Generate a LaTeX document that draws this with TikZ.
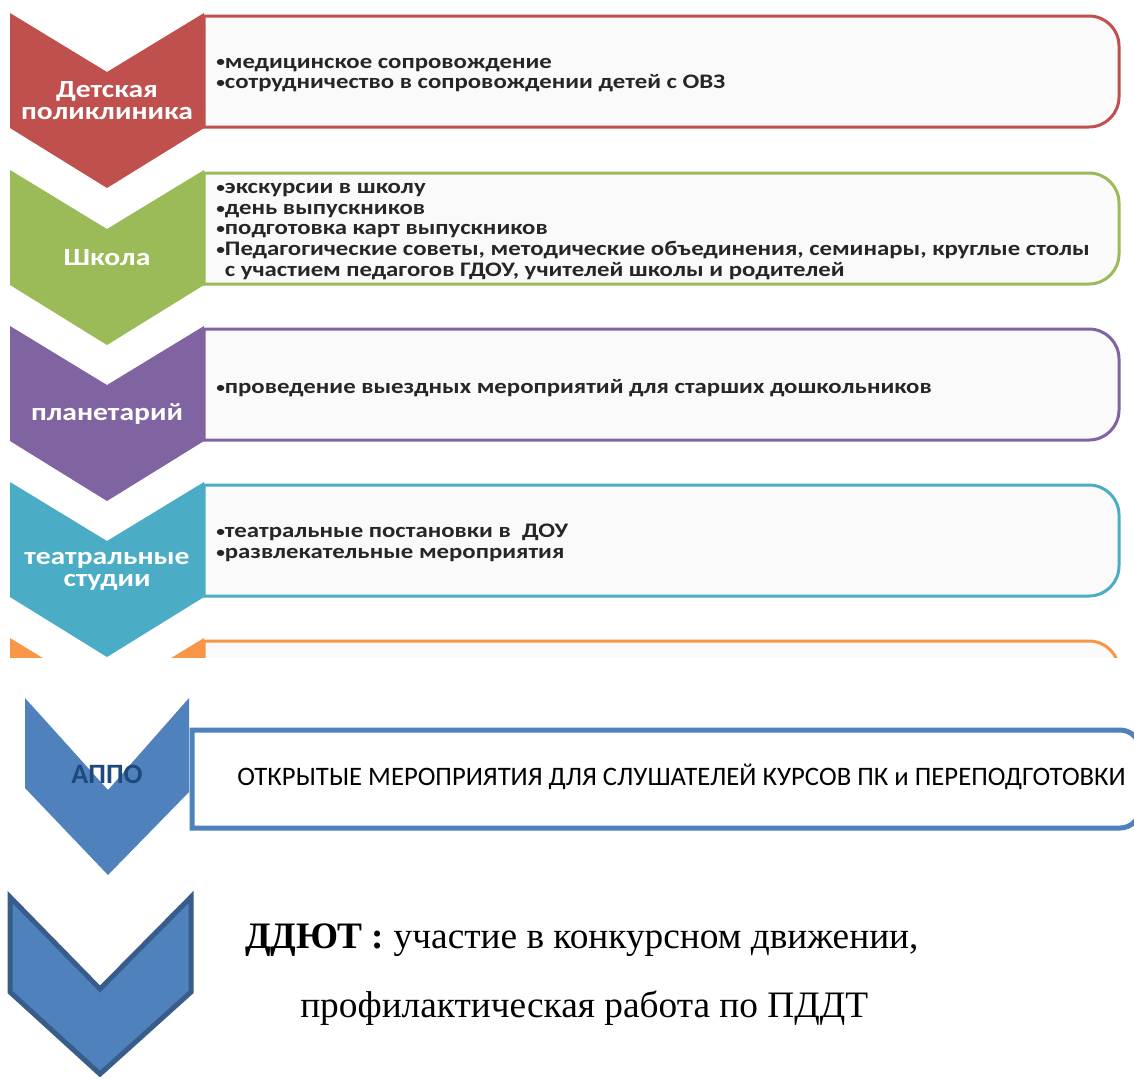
\documentclass[tikz,border=0pt]{standalone}
\usepackage{fontspec}
\usepackage{graphicx}
\setmainfont{Liberation Serif}
\newfontfamily\calst[FakeStretch=1.2]{Carlito}
\newfontfamily\calr{Carlito}
\definecolor{cred}{HTML}{C0504D}
\definecolor{cgreen}{HTML}{9BBB59}
\definecolor{cpurple}{HTML}{8064A2}
\definecolor{cteal}{HTML}{4BACC6}
\definecolor{corange}{HTML}{F79646}
\definecolor{cblue}{HTML}{4F81BD}
\definecolor{cdblue}{HTML}{385D8A}
\definecolor{cnavy}{HTML}{1F497D}
\definecolor{boxfill}{HTML}{FAFAFA}
\definecolor{txt}{HTML}{262626}
\newcommand\bul{\raisebox{0.12ex}{\scalebox{0.7}{•}}}
\tikzset{
  chevlabel/.style={text=white, font=\calst\bfseries\fontsize{18.5}{16.5}\selectfont, align=center, inner sep=0pt},
  boxtext/.style={text=txt, font=\calst\bfseries\fontsize{15.5}{15.4}\selectfont, align=left, inner sep=0pt, anchor=west},
  sbox/.style={fill=boxfill, line width=2.25pt},
}
\newcommand\topchev[2]{\fill[#1] (10,#2) -- (107,#2+59) -- (204,#2) -- (204,#2+115) -- (107,#2+175) -- (10,#2+115) -- cycle;}
\newcommand\topbox[2]{\filldraw[sbox, draw=#1] (204,#2+3) -- (1089,#2+3) arc(270:360:30) -- (1119,#2+84) arc(0:90:30) -- (204,#2+114) -- cycle;}
\begin{document}
\begin{tikzpicture}[x=0.75pt,y=-0.75pt]
\useasboundingbox (0,0) rectangle (1134,1079);
\fill[white] (0,0) rectangle (1134,1079);
\begin{scope}
\clip (0,0) rectangle (1134,657);
% red
\topbox{cred}{13}
\topchev{cred}{13}
\node[chevlabel] (l1) at (107,101) {Детская\\поликлиника};
\node[boxtext] (t1) at (216,75) {\bul медицинское сопровождение\\\bul сотрудничество в сопровождении детей с ОВЗ};
% green
\topbox{cgreen}{170}
\topchev{cgreen}{170}
\node[chevlabel] (l2) at (107,258) {Школа};
\node[boxtext] (t2) at (216,231.5) {\bul экскурсии в школу\\\bul день выпускников\\\bul подготовка карт выпускников\\\bul Педагогические советы, методические объединения, семинары, круглые столы\\\hphantom{\bul}с участием педагогов ГДОУ, учителей школы и родителей};
% purple
\topbox{cpurple}{326}
\topchev{cpurple}{326}
\node[chevlabel] (l3) at (107,414) {планетарий};
\node[boxtext] (t3) at (216,388) {\bul проведение выездных мероприятий для старших дошкольников};
% teal
\topbox{cteal}{482}
\topchev{cteal}{482}
\node[chevlabel] (l4) at (107,571) {театральные\\студии};
\node[boxtext] (t4) at (216,543) {\bul театральные постановки в\ \ ДОУ\\\bul развлекательные мероприятия};
% orange (cut)
\topbox{corange}{638}
\topchev{corange}{638}
\end{scope}
% АППО
\fill[cblue] (25,698) -- (108,790) -- (189,698) -- (189,792) -- (108,875) -- (25,788) -- cycle;
\begin{scope}
\clip (0,0) rectangle (1134,1079);
\filldraw[fill=white, draw=cblue, line width=3.75pt] (192,730) -- (1120,730) arc(270:360:20) -- (1140,808) arc(0:90:20) -- (192,828) -- cycle;
\end{scope}
\node[text=cnavy, font=\calr\bfseries\fontsize{21}{24}\selectfont, inner sep=0pt, anchor=base] (appo) at (107,783) {АППО};
\node[font=\calr\fontsize{20}{24}\selectfont, inner sep=0pt, anchor=base west] (appotext) at (237,785) {ОТКРЫТЫЕ МЕРОПРИЯТИЯ ДЛЯ СЛУШАТЕЛЕЙ КУРСОВ ПК и ПЕРЕПОДГОТОВКИ};
% ДДЮТ
\filldraw[fill=cblue, draw=cdblue, line width=3.75pt] (10,897) -- (100,989) -- (191,897) -- (191,992) -- (100,1074) -- (10,992) -- cycle;
\node[font=\fontsize{28}{32}\selectfont, inner sep=0pt, anchor=base west] (ddyut1) at (245,948) {\textbf{ДДЮТ :} участие в конкурсном движении,};
\node[font=\fontsize{28}{32}\selectfont, inner sep=0pt, anchor=base west] (ddyut2) at (300,1017) {профилактическая работа по ПДДТ};
\end{tikzpicture}
\end{document}
